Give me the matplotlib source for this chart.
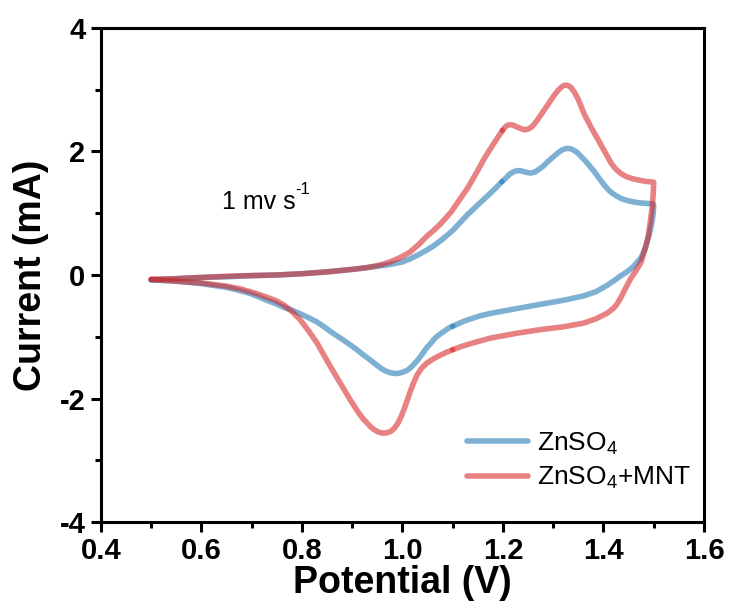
import matplotlib
matplotlib.use("Agg")
import matplotlib.pyplot as plt
from matplotlib.ticker import MultipleLocator

plt.rcParams['font.family'] = ['Liberation Sans', 'DejaVu Sans']
plt.rcParams['mathtext.fontset'] = 'custom'
plt.rcParams['mathtext.rm'] = 'Liberation Sans'
plt.rcParams['axes.unicode_minus'] = False

# ZnSO4: anodic sweep 0.5 -> 1.2 V
blue_low_x = [0.5, 0.55, 0.6, 0.65, 0.7, 0.75, 0.8, 0.85, 0.9, 0.95, 0.975, 1.0, 1.015, 1.03, 1.046, 1.062,
              1.08, 1.1, 1.115, 1.13, 1.147, 1.164, 1.181, 1.198]
blue_low_y = [-0.08, -0.06, -0.04, -0.03, -0.01, 0.0, 0.02, 0.05, 0.09, 0.14, 0.17, 0.21, 0.26, 0.32, 0.39, 0.47,
              0.58, 0.72, 0.85, 0.98, 1.11, 1.24, 1.37, 1.51]
# ZnSO4: 1.2 -> 1.5 -> 1.1 V
blue_top_x = [1.198, 1.206, 1.213, 1.221, 1.229, 1.236, 1.243, 1.25, 1.256, 1.263, 1.27, 1.28, 1.29, 1.3, 1.31,
              1.319, 1.327, 1.336, 1.345, 1.353, 1.36, 1.368, 1.375, 1.383, 1.39, 1.402, 1.412, 1.42,
              1.428, 1.436, 1.445, 1.455, 1.465, 1.475, 1.492, 1.499, 1.5, 1.499, 1.497, 1.494, 1.49,
              1.484, 1.475, 1.46, 1.45, 1.441, 1.433, 1.425, 1.407, 1.385, 1.36, 1.32, 1.278, 1.23, 1.176,
              1.155, 1.14, 1.125, 1.1]
blue_top_y = [1.51, 1.57, 1.63, 1.67, 1.69, 1.685, 1.67, 1.655, 1.65, 1.665, 1.70, 1.76, 1.84, 1.91, 1.98,
              2.03, 2.05, 2.04, 2.0, 1.94, 1.88, 1.81, 1.74, 1.66, 1.58, 1.45, 1.36, 1.31,
              1.27, 1.235, 1.21, 1.19, 1.175, 1.165, 1.155, 1.15, 1.13, 1.0, 0.88, 0.75, 0.62,
              0.45, 0.28, 0.14, 0.07, 0.02, -0.02, -0.07, -0.17, -0.27, -0.34, -0.41, -0.47, -0.54, -0.62,
              -0.66, -0.70, -0.74, -0.83]
# ZnSO4: cathodic sweep 1.1 -> 0.5 V
blue_ret_x = [1.1, 1.092, 1.085, 1.076, 1.068, 1.061, 1.055, 1.048, 1.042, 1.035, 1.028, 1.021, 1.015, 1.008,
              1.0, 0.993, 0.985, 0.977, 0.968, 0.959, 0.949, 0.935, 0.92, 0.908, 0.896, 0.88, 0.863,
              0.846, 0.83, 0.813, 0.797, 0.78, 0.763, 0.747, 0.73, 0.713, 0.697, 0.675, 0.65, 0.6, 0.55, 0.5]
blue_ret_y = [-0.83, -0.86, -0.90, -0.95, -1.00, -1.06, -1.12, -1.18, -1.25, -1.33, -1.40, -1.46, -1.51, -1.55,
              -1.575, -1.59, -1.595, -1.585, -1.56, -1.52, -1.46, -1.37, -1.28, -1.20, -1.13, -1.04, -0.95,
              -0.85, -0.76, -0.69, -0.63, -0.57, -0.52, -0.46, -0.41, -0.35, -0.30, -0.25, -0.20, -0.14, -0.10, -0.08]

# ZnSO4+MNT: anodic sweep 0.5 -> 1.2 V
red_low_x = [0.5, 0.55, 0.6, 0.65, 0.7, 0.75, 0.8, 0.85, 0.9, 0.93, 0.955, 0.975, 0.995, 1.015, 1.032, 1.049,
             1.062, 1.075, 1.086, 1.097, 1.113, 1.13, 1.147, 1.164, 1.182, 1.199]
red_low_y = [-0.07, -0.06, -0.04, -0.02, -0.01, 0.0, 0.02, 0.05, 0.09, 0.12, 0.16, 0.21, 0.28, 0.37, 0.49, 0.63,
             0.72, 0.82, 0.92, 1.02, 1.21, 1.41, 1.65, 1.90, 2.13, 2.34]
# ZnSO4+MNT: 1.2 -> 1.5 -> 1.1 V
red_top_x = [1.199, 1.205, 1.211, 1.218, 1.227, 1.235, 1.243, 1.25, 1.258, 1.265, 1.273, 1.283, 1.293, 1.302,
             1.31, 1.316, 1.322, 1.328, 1.335, 1.342, 1.35, 1.356, 1.362, 1.369, 1.376, 1.383, 1.39, 1.403,
             1.416, 1.425, 1.435, 1.446, 1.457, 1.468, 1.48, 1.49, 1.5, 1.499, 1.497, 1.493, 1.489, 1.482,
             1.475, 1.465, 1.454, 1.445, 1.435, 1.427, 1.42, 1.407, 1.385, 1.36, 1.32, 1.278, 1.23, 1.176,
             1.14, 1.12, 1.1]
red_top_y = [2.34, 2.40, 2.43, 2.43, 2.40, 2.37, 2.35, 2.36, 2.40, 2.47, 2.56, 2.68, 2.80, 2.91,
             2.99, 3.04, 3.07, 3.07, 3.04, 2.96, 2.84, 2.72, 2.60, 2.49, 2.38, 2.28, 2.18, 1.99,
             1.80, 1.71, 1.64, 1.59, 1.56, 1.54, 1.52, 1.51, 1.50, 1.30, 1.10, 0.85, 0.62, 0.40,
             0.21, 0.07, -0.06, -0.20, -0.36, -0.47, -0.54, -0.62, -0.71, -0.78, -0.84, -0.88, -0.94, -1.02,
             -1.10, -1.15, -1.21]
# ZnSO4+MNT: cathodic sweep 1.1 -> 0.5 V
red_ret_x = [1.1, 1.088, 1.075, 1.061, 1.048, 1.038, 1.029, 1.022, 1.015, 1.009, 1.003, 0.997, 0.991, 0.984,
             0.977, 0.969, 0.961, 0.953, 0.945, 0.937, 0.929, 0.92, 0.912, 0.904, 0.896, 0.88, 0.863, 0.846,
             0.83, 0.813, 0.796, 0.78, 0.763, 0.747, 0.73, 0.713, 0.697, 0.675, 0.65, 0.6, 0.55, 0.5]
red_ret_y = [-1.21, -1.25, -1.30, -1.36, -1.43, -1.51, -1.62, -1.75, -1.90, -2.04, -2.18, -2.30, -2.40, -2.48,
             -2.53, -2.555, -2.56, -2.545, -2.51, -2.46, -2.39, -2.31, -2.22, -2.12, -2.02, -1.80, -1.57, -1.33,
             -1.10, -0.90, -0.72, -0.59, -0.48, -0.41, -0.36, -0.31, -0.27, -0.22, -0.18, -0.13, -0.10, -0.07]

blue_c = '#1f77b4'
red_c = '#d62728'
lw = 4.0
al = 0.58

fig = plt.figure(figsize=(7.31, 6.05), dpi=100)
ax = fig.add_axes([0.138, 0.137, 0.825, 0.817])

for xs, ys in [(blue_low_x, blue_low_y), (blue_top_x, blue_top_y), (blue_ret_x, blue_ret_y)]:
    ax.plot(xs, ys, color=blue_c, lw=lw, alpha=al, solid_capstyle='round', solid_joinstyle='round')
for xs, ys in [(red_low_x, red_low_y), (red_top_x, red_top_y), (red_ret_x, red_ret_y)]:
    ax.plot(xs, ys, color=red_c, lw=lw, alpha=al, solid_capstyle='round', solid_joinstyle='round')

# legend handles
ax.plot([], [], color=blue_c, lw=lw, alpha=al, solid_capstyle='round', label=r'ZnSO$_4$')
ax.plot([], [], color=red_c, lw=lw, alpha=al, solid_capstyle='round', label=r'ZnSO$_4$+MNT')
handles, labels = ax.get_legend_handles_labels()
ax.legend(handles, labels, loc='lower right', bbox_to_anchor=(1.005, 0.03), frameon=False,
          fontsize=19, handlelength=2.3, handletextpad=0.35, labelspacing=0.3, borderaxespad=0.2)

t = ax.text(0.641, 1.18, '1 mv s', fontsize=18, va='center', ha='left')
ax.annotate('-1', xy=(1, 0.72), xycoords=t, fontsize=12, va='bottom', ha='left')

ax.set_xlim(0.4, 1.6)
ax.set_ylim(-4, 4)
ax.xaxis.set_major_locator(MultipleLocator(0.2))
ax.xaxis.set_minor_locator(MultipleLocator(0.1))
ax.yaxis.set_major_locator(MultipleLocator(2))
ax.yaxis.set_minor_locator(MultipleLocator(1))
ax.xaxis.set_major_formatter(plt.FormatStrFormatter('%.1f'))
ax.yaxis.set_major_formatter(plt.FormatStrFormatter('%d'))

for s in ax.spines.values():
    s.set_linewidth(2.2)
ax.tick_params(which='major', direction='out', length=7, width=2.2, labelsize=21, pad=4)
ax.tick_params(which='minor', direction='out', length=4, width=2.2)
for lab in ax.get_xticklabels() + ax.get_yticklabels():
    lab.set_fontweight('bold')

ax.set_xlabel('Potential (V)', fontsize=27, fontweight='bold', labelpad=0)
ax.set_ylabel('Current (mA)', fontsize=27, fontweight='bold', labelpad=8)

fig.savefig('out.png', dpi=100)
